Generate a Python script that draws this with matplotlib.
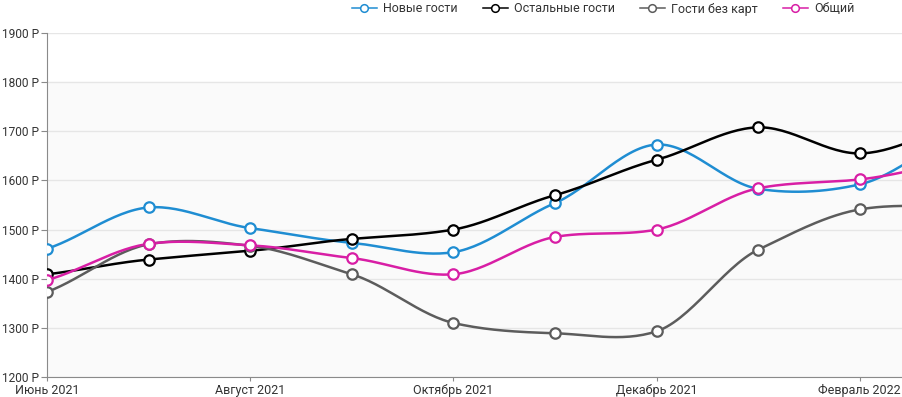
import numpy as np
import matplotlib
matplotlib.use("Agg")
import matplotlib.pyplot as plt

plt.rcParams['font.family'] = ['Roboto', 'DejaVu Sans']

# месяцы: июнь 2021 ... март 2022 (последний за краем графика)
months = ["Июнь 2021", "Июль 2021", "Август 2021", "Сентябрь 2021", "Октябрь 2021",
          "Ноябрь 2021", "Декабрь 2021", "Январь 2022", "Февраль 2022", "Март 2022"]
new_guests = [1461, 1545, 1503, 1473, 1454, 1554, 1673, 1583, 1592, 1700]
other_guests = [1409, 1439, 1457, 1481, 1500, 1570, 1642, 1708, 1655, 1715]
no_card = [1373, 1470, 1467, 1409, 1310, 1289, 1293, 1459, 1541, 1548]
total = [1397, 1471, 1468, 1442, 1409, 1485, 1500, 1584, 1602, 1640]

series = [
    ("Новые гости", new_guests, "#1f8dd2"),
    ("Остальные гости", other_guests, "#000000"),
    ("Гости без карт", no_card, "#5c5c5c"),
    ("Общий", total, "#d81ea5"),
]


def smooth(y, n=30, k=0.8):
    # кривая Эрмита через точки, касательные как у Catmull-Rom (с натяжением k)
    y = np.asarray(y, dtype=float)
    m = np.gradient(y) * k
    xs, ys = [], []
    t = np.linspace(0, 1, n, endpoint=False)
    h00 = 2 * t ** 3 - 3 * t ** 2 + 1
    h10 = t ** 3 - 2 * t ** 2 + t
    h01 = -2 * t ** 3 + 3 * t ** 2
    h11 = t ** 3 - t ** 2
    for i in range(len(y) - 1):
        xs.append(i + t)
        ys.append(h00 * y[i] + h10 * m[i] + h01 * y[i + 1] + h11 * m[i + 1])
    xs.append([len(y) - 1])
    ys.append([y[-1]])
    return np.concatenate(xs), np.concatenate(ys)


fig = plt.figure(figsize=(9.02, 3.97), dpi=100)
ax = fig.add_axes([47 / 902, 1 - 377 / 397, 1 - 47 / 902, (377 - 33) / 397])

x = np.arange(len(months))
ax.axhspan(1200, 1800, color="#fafafa", zorder=0)
for name, vals, col in series:
    sx, sy = smooth(vals)
    ax.plot(sx, sy, color=col, lw=1.8, zorder=3)
    ax.plot(x, vals, 'o', color=col, mfc="white", mec=col, mew=1.6, ms=7.5, zorder=4)
    # для легенды
    ax.plot([], [], '-o', color=col, mfc="white", mec=col, mew=1.1, ms=5.5, lw=1.1, label=name)

ax.set_xlim(0, (902 - 47) / 101.6)
ax.set_ylim(1200, 1900)
yt = np.arange(1200, 1901, 100)
ax.set_yticks(yt)
ax.set_yticklabels([f"{v} Р" for v in yt])
ax.set_xticks(x[::2])
ax.set_xticklabels(months[::2])
ax.grid(axis="y", color="#e6e6e6", lw=1)
ax.set_axisbelow(True)

for s in ["top", "right"]:
    ax.spines[s].set_visible(False)
for s in ["left", "bottom"]:
    ax.spines[s].set_color("#8a8a8a")
ax.tick_params(axis="both", colors="#8a8a8a", labelcolor="#333333")
ax.tick_params(axis="y", pad=2, length=4, labelsize=8.6)
ax.tick_params(axis="x", pad=2, length=3, labelsize=9)

handles, labels = ax.get_legend_handles_labels()
fig.legend(handles, labels, loc="center", bbox_to_anchor=(603 / 902, 1 - 9 / 397), ncol=4,
           frameon=False, fontsize=9, handlelength=2.0, handletextpad=0.5, columnspacing=2.0,
           labelcolor="#333333")

fig.savefig("out.png", dpi=100)
